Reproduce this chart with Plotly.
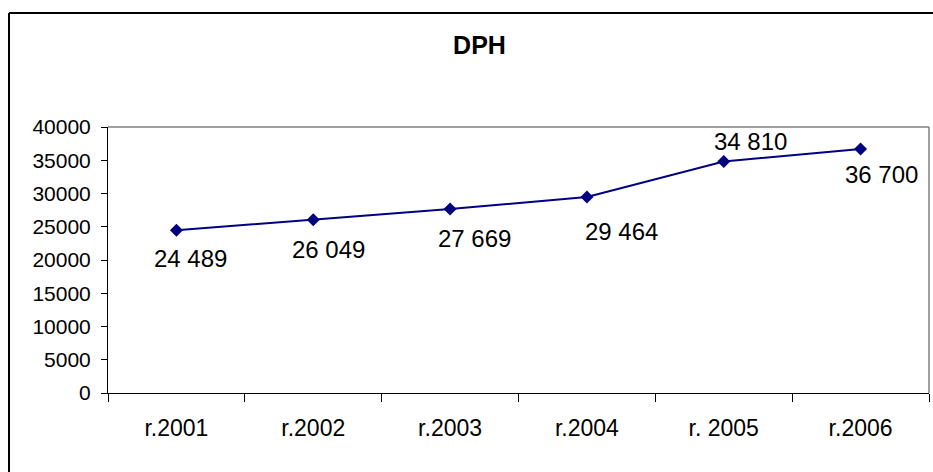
import plotly.graph_objects as go

# Annual VAT (DPH) revenue
years = ["r.2001", "r.2002", "r.2003", "r.2004", "r. 2005", "r.2006"]
dph = [24489, 26049, 27669, 29464, 34810, 36700]
y_ticks = [0, 5000, 10000, 15000, 20000, 25000, 30000, 35000, 40000]
y_tick_text = [str(v) for v in y_ticks]

# pixel offsets of each value label from its marker (dx right, dy up)
label_shift = [(14, -28), (15, -30), (24, -29), (35, -34), (27, 20), (21, -26)]

W, H = 933, 472
L, R, T, B = 108, 4, 127, 79
FONT = "Liberation Sans, Arial, sans-serif"
NAVY = "#000080"

fig = go.Figure()
fig.add_trace(go.Scatter(
    x=years, y=dph, mode="lines+markers",
    line=dict(color=NAVY, width=2),
    marker=dict(symbol="diamond", size=10, color=NAVY),
    hoverinfo="skip", showlegend=False,
))

def fmt(v):
    return f"{v:,}".replace(",", " ")

annotations = []
for yr, v, (dx, dy) in zip(years, dph, label_shift):
    annotations.append(dict(
        x=yr, y=v, xref="x", yref="y", text=fmt(v), showarrow=False,
        xanchor="center", yanchor="middle", xshift=dx, yshift=dy,
        font=dict(family=FONT, size=24, color="black"),
    ))

pw = W - L - R
ph = H - T - B
shapes = [
    # grey frame on top and right of the plot area
    dict(type="line", xref="paper", yref="paper", x0=0, x1=1, y0=1, y1=1,
         line=dict(color="#808080", width=1.5)),
    dict(type="line", xref="paper", yref="paper", x0=1, x1=1, y0=0, y1=1,
         line=dict(color="#808080", width=1.5)),
    # outer chart border (left and top)
    dict(type="line", xref="paper", yref="paper",
         x0=(9 - L) / pw, x1=(9 - L) / pw, y0=-2, y1=(H - B - 13) / ph,
         line=dict(color="black", width=2)),
    dict(type="line", xref="paper", yref="paper",
         x0=(9 - L) / pw, x1=2, y0=(H - B - 13) / ph, y1=(H - B - 13) / ph,
         line=dict(color="black", width=2)),
]

fig.update_layout(
    width=W, height=H,
    margin=dict(l=L, r=R, t=T, b=B),
    paper_bgcolor="white", plot_bgcolor="white",
    font=dict(family=FONT, color="black"),
    title=dict(text="<b>DPH</b>", xref="container", yref="container",
               x=479.5 / W, y=1 - 45 / H, xanchor="center", yanchor="middle",
               font=dict(family=FONT, size=25, color="black")),
    xaxis=dict(type="category", tickson="boundaries", ticks="outside",
               ticklen=8, tickcolor="black", showline=True, linecolor="black",
               linewidth=1, showgrid=False, zeroline=False,
               ticklabelstandoff=14,
               tickfont=dict(family=FONT, size=23, color="black"),
               range=[-0.5, len(years) - 0.5]),
    yaxis=dict(range=[0, 40000], tickvals=y_ticks, ticktext=y_tick_text,
               ticks="outside",
               ticklen=6, tickcolor="black", showline=True, linecolor="black",
               linewidth=1, showgrid=False, zeroline=False,
               ticklabelstandoff=6,
               tickfont=dict(family=FONT, size=21, color="black")),
    annotations=annotations,
    shapes=shapes,
)

fig.write_html("out.html")
